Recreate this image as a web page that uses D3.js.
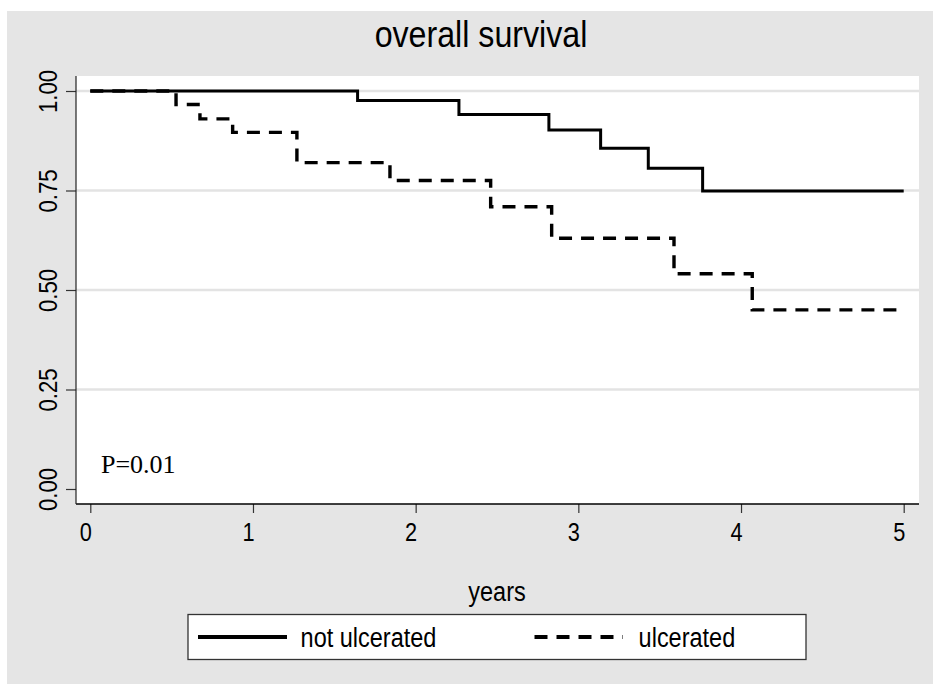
<!DOCTYPE html>
<html>
<head>
<meta charset="utf-8">
<script src="https://cdn.jsdelivr.net/npm/d3@7"></script>
<style>
  html, body { margin: 0; padding: 0; background: #ffffff; }
  svg { display: block; }
  text { font-family: Arial, "Liberation Sans", Helvetica, sans-serif; fill: #000; }
</style>
</head>
<body>
<svg id="chart" width="933" height="684"></svg>
<script>
// Kaplan-Meier step data: event times (years) and survival after each step
const notUlceratedTimes = [0, 1.643, 2.266, 2.819, 3.137, 3.43, 3.764];
const notUlceratedSurv  = [1.00, 0.976, 0.941, 0.902, 0.856, 0.806, 0.749];
const ulceratedTimes = [0, 0.527, 0.674, 0.875, 1.27, 1.842, 2.461, 2.836, 3.588, 4.069];
const ulceratedSurv  = [1.00, 0.966, 0.930, 0.896, 0.820, 0.775, 0.709, 0.630, 0.541, 0.450];
const followUpEnd = 5;

const xTicks = [0, 1, 2, 3, 4, 5];
const yTicks = [0, 0.25, 0.5, 0.75, 1];
const gridValues = [0.25, 0.5, 0.75, 1];

const seriesNames = ["not ulcerated", "ulcerated"];
const titleText = "overall survival";
const xTitle = "years";
const pValueText = "P=0.01";

// the sans-serif text is set slightly condensed
const narrow = 0.87;

const svg = d3.select("#chart");

// outer graph region and inner plot region
svg.append("rect").attr("x", 7).attr("y", 11).attr("width", 926).attr("height", 673)
  .attr("fill", "#e5e5e5");
const plot = { left: 76, right: 919, top: 76, bottom: 504 };
svg.append("rect")
  .attr("x", plot.left).attr("y", plot.top)
  .attr("width", plot.right - plot.left).attr("height", plot.bottom - plot.top)
  .attr("fill", "#ffffff");

const x = d3.scaleLinear().domain([0, 5]).range([90.3, 903.7]);
const y = d3.scaleLinear().domain([0, 1]).range([489, 91]);

// horizontal grid lines
svg.append("g").selectAll("line").data(gridValues).join("line")
  .attr("x1", plot.left).attr("x2", plot.right)
  .attr("y1", d => y(d)).attr("y2", d => y(d))
  .attr("stroke", "#e3e3e3").attr("stroke-width", 2.5);

// x axis
const xAxis = svg.append("g").attr("transform", `translate(0,${plot.bottom})`)
  .call(d3.axisBottom(x).tickValues(xTicks).tickFormat(d3.format("d")).tickSize(9).tickPadding(0));
xAxis.select(".domain").remove();
xAxis.selectAll(".tick line").attr("stroke", "#333").attr("stroke-width", 1.2);
xAxis.selectAll(".tick text")
  .attr("y", null).attr("dy", null)
  .attr("transform", `translate(-5,37) scale(${narrow},1)`)
  .style("font-size", "25px").attr("fill", "#000");
svg.append("line").attr("x1", plot.left).attr("x2", plot.right)
  .attr("y1", plot.bottom).attr("y2", plot.bottom)
  .attr("stroke", "#000").attr("stroke-width", 1.6);

// y axis
const yAxis = svg.append("g").attr("transform", `translate(${plot.left},0)`)
  .call(d3.axisLeft(y).tickValues(yTicks).tickFormat(d3.format(".2f")).tickSize(10).tickPadding(0));
yAxis.select(".domain").remove();
yAxis.selectAll(".tick line").attr("stroke", "#333").attr("stroke-width", 1.2);
yAxis.selectAll(".tick text")
  .attr("x", null).attr("dy", null)
  .attr("text-anchor", "middle")
  .attr("transform", `translate(-19,0) rotate(-90) scale(${narrow},1)`)
  .style("font-size", "25.5px").attr("fill", "#000");
svg.append("line").attr("x1", plot.left).attr("x2", plot.left)
  .attr("y1", plot.top).attr("y2", plot.bottom)
  .attr("stroke", "#222").attr("stroke-width", 1.2);

// survival curves
function stepPoints(times, surv) {
  const pts = times.map((t, i) => [t, surv[i]]);
  pts.push([followUpEnd, surv[surv.length - 1]]);
  return pts;
}
const stepLine = d3.line().x(d => x(d[0])).y(d => y(d[1])).curve(d3.curveStepAfter);

svg.append("path")
  .attr("d", stepLine(stepPoints(notUlceratedTimes, notUlceratedSurv)))
  .attr("fill", "none").attr("stroke", "#000").attr("stroke-width", 3);

svg.append("path")
  .attr("d", stepLine(stepPoints(ulceratedTimes, ulceratedSurv)))
  .attr("fill", "none").attr("stroke", "#000").attr("stroke-width", 3.4)
  .attr("stroke-dasharray", "13,9");

// p-value annotation
svg.append("text").attr("x", 101).attr("y", 473)
  .style("font-family", "'Times New Roman', 'Liberation Serif', serif")
  .style("font-size", "26px").text(pValueText);

// titles
function condensedText(parent, cx, cy, size, anchor, str) {
  return parent.append("text")
    .attr("transform", `translate(${cx},${cy}) scale(${narrow},1)`)
    .attr("text-anchor", anchor)
    .style("font-size", size + "px").text(str);
}
condensedText(svg, 481, 47, 37, "middle", titleText);
condensedText(svg, 497, 601, 27, "middle", xTitle);

// legend
const legend = svg.append("g");
legend.append("rect").attr("x", 188).attr("y", 614.5).attr("width", 618).attr("height", 45)
  .attr("fill", "#fff").attr("stroke", "#333").attr("stroke-width", 1.3);
const legendItems = [
  { name: seriesNames[0], x0: 198, x1: 287, tx: 300.6, dash: null },
  { name: seriesNames[1], x0: 534.5, x1: 623, tx: 638.6, dash: "13,9" }
];
legendItems.forEach(item => {
  legend.append("line").attr("x1", item.x0).attr("x2", item.x1)
    .attr("y1", 637).attr("y2", 637)
    .attr("stroke", "#000").attr("stroke-width", 3.8)
    .attr("stroke-dasharray", item.dash);
  condensedText(legend, item.tx, 647, 27, "start", item.name);
});
</script>
</body>
</html>
